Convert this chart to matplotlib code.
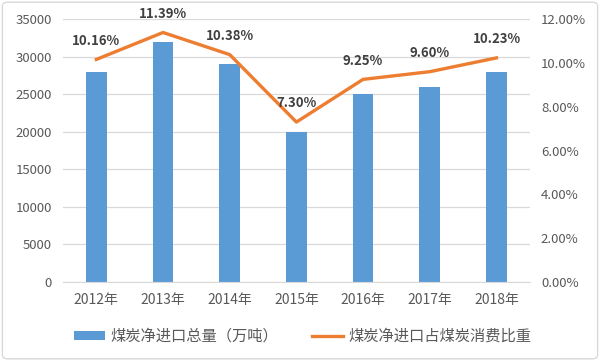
import matplotlib
matplotlib.use("Agg")
import matplotlib.pyplot as plt
from matplotlib.patches import FancyBboxPatch
from matplotlib.lines import Line2D
from matplotlib.patches import Patch
from matplotlib.ticker import FuncFormatter

plt.rcParams['font.family'] = ['Noto Sans CJK SC', 'DejaVu Sans']

years = ["2012年", "2013年", "2014年", "2015年", "2016年", "2017年", "2018年"]
imports = [28000, 32000, 29000, 20000, 25000, 26000, 28000]
share = [10.16, 11.39, 10.38, 7.30, 9.25, 9.60, 10.23]
bar_label = "煤炭净进口总量（万吨）"
line_label = "煤炭净进口占煤炭消费比重"

blue = "#5B9BD5"
orange = "#ED7D31"
txt = "#595959"

fig = plt.figure(figsize=(6, 3.61), dpi=100)
ax = fig.add_axes([0.105, 0.219, 0.778, 0.728])
ax2 = ax.twinx()

x = list(range(len(years)))
ax.bar(x, imports, width=0.31, color=blue, zorder=2)
ax.set_ylim(0, 35000)
ax.set_yticks(range(0, 35001, 5000))
ax.set_xlim(-0.5, len(years) - 0.5)
ax.set_xticks(x)
ax.set_xticklabels(years)
ax.grid(axis='y', color='#D9D9D9', linewidth=0.9, zorder=0)
ax.set_axisbelow(True)

ax2.plot(x, share, color=orange, linewidth=2.4, zorder=3, solid_joinstyle='round')
ax2.set_ylim(0, 12)
ax2.set_yticks(range(0, 13, 2))
ax2.yaxis.set_major_formatter(FuncFormatter(lambda v, p: f"{v:.2f}%"))
for xi, v in zip(x, share):
    ax2.annotate(f"{v:.2f}%", (xi, v), xytext=(0, 13.5), textcoords='offset points',
                 ha='center', va='center', fontsize=9.5, fontweight='bold', color='#404040')

for a in (ax, ax2):
    for s in ['top', 'left', 'right']:
        a.spines[s].set_visible(False)
    a.spines['bottom'].set_visible(False)
    a.tick_params(length=0, labelsize=9.5, labelcolor=txt)
ax.spines['bottom'].set_visible(True)
ax.spines['bottom'].set_color('#D9D9D9')
ax.tick_params(axis='x', pad=8, labelsize=10)
ax.tick_params(axis='y', pad=8)
ax2.tick_params(axis='y', pad=8)

handles = [Patch(facecolor=blue, edgecolor='none'),
           Line2D([0], [0], color=orange, linewidth=2.4)]
fig.legend(handles, [bar_label, line_label], loc='center', bbox_to_anchor=(0.505, 0.068),
           ncol=2, frameon=False, fontsize=11, labelcolor=txt,
           handlelength=2.0, handleheight=0.5, columnspacing=2.2, handletextpad=0.4)

border = FancyBboxPatch((0.004, 0.006), 0.992, 0.988, boxstyle="round,pad=0,rounding_size=0.01",
                        transform=fig.transFigure, facecolor='none', edgecolor='#D9D9D9', linewidth=1)
fig.patches.append(border)

fig.savefig("out.png", dpi=100)
